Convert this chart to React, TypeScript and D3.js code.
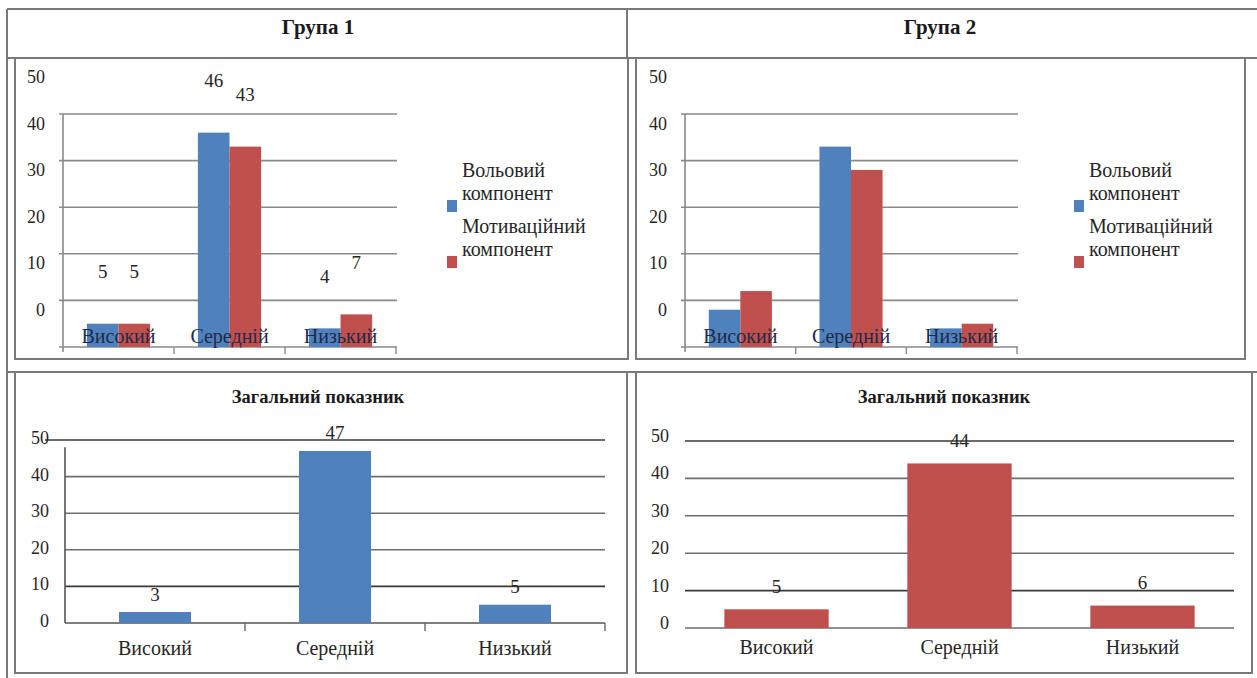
import React from 'react';
import * as d3 from 'd3';

// Levels of formation
const categories = ['Високий', 'Середній', 'Низький'];
// Series (two-line legend captions)
const seriesLabels = [
  ['Вольовий', 'компонент'],
  ['Мотиваційний', 'компонент'],
];
const group1Volitional = [5, 46, 4];
const group1Motivational = [5, 43, 7];
const group2Volitional = [8, 43, 4];
const group2Motivational = [12, 38, 5];
const group1Overall = [3, 47, 5];
const group2Overall = [5, 44, 6];
const yTicks = [0, 10, 20, 30, 40, 50];
const groupTitles = ['Група 1', 'Група 2'];
const overallTitle = 'Загальний показник';

const BLUE = '#4f81bd';
const RED = '#c0504d';
const SERIF = 'Liberation Serif';
const TEXT = '#262626';
const RULE = '#7a7a7a';

type GroupedProps = {
  left: number;
  right: number;
  base: number;
  top: number;
  series: number[][];
  showValues: boolean;
  legendX: number;
};

function GroupedChart({ left, right, base, top, series, showValues, legendX }: GroupedProps) {
  const y = d3.scaleLinear().domain([0, 50]).range([base, top]);
  const x = d3
    .scaleBand<string>()
    .domain(categories)
    .range([left, right])
    .paddingInner(0.43)
    .paddingOuter(0.215);
  const xs = d3
    .scaleBand<string>()
    .domain(series.map((_, i) => String(i)))
    .range([0, x.bandwidth()]);
  const colors = [BLUE, RED];
  const step = x.step();
  return (
    <g>
      {/* gridlines */}
      {yTicks.filter((t) => t > 0).map((t) => (
        <line key={t} x1={left - 4} x2={right + 1} y1={y(t)} y2={y(t)} stroke="#8a8a8a" strokeWidth={1.6} />
      ))}
      {/* value axis */}
      <line x1={left} x2={left} y1={y(50)} y2={base + 5} stroke="#8a8a8a" strokeWidth={1.6} />
      <line x1={left - 4} x2={right + 1} y1={base} y2={base} stroke="#8a8a8a" strokeWidth={1.6} />
      {d3.range(1, categories.length + 1).map((i) => (
        <line key={i} x1={left + i * step} x2={left + i * step} y1={base} y2={base + 7} stroke="#8a8a8a" strokeWidth={1.4} />
      ))}
      {yTicks.map((t) => (
        <text key={t} x={left - 18} y={y(t) - 37} textAnchor="end" dominantBaseline="central" fontSize={18} fill={TEXT}>
          {t}
        </text>
      ))}
      {/* bars */}
      {series.map((vals, si) =>
        vals.map((v, ci) => (
          <rect
            key={`${si}-${ci}`}
            x={(x(categories[ci]) ?? 0) + (xs(String(si)) ?? 0)}
            y={y(v)}
            width={xs.bandwidth()}
            height={base - y(v)}
            fill={colors[si]}
          />
        ))
      )}
      {/* category names sit over the bars, just above the baseline */}
      {categories.map((c) => (
        <text key={c} x={(x(c) ?? 0) + x.bandwidth() / 2} y={base - 11} textAnchor="middle" dominantBaseline="central" fontSize={20} fill="#1e2a48">
          {c}
        </text>
      ))}
      {showValues &&
        series.map((vals, si) =>
          vals.map((v, ci) => (
            <text
              key={`v${si}-${ci}`}
              x={(x(categories[ci]) ?? 0) + (xs(String(si)) ?? 0) + xs.bandwidth() / 2}
              y={y(v) - 52}
              textAnchor="middle"
              dominantBaseline="central"
              fontSize={19}
              fill={TEXT}
            >
              {v}
            </text>
          ))
        )}
      {/* legend */}
      {seriesLabels.map((lines, si) => (
        <g key={si} transform={`translate(${legendX},${170 + si * 56})`}>
          {lines.map((ln, li) => (
            <text key={li} x={15} y={li * 23} dominantBaseline="central" fontSize={20} fill={TEXT}>
              {ln}
            </text>
          ))}
          <rect x={0} y={30} width={10} height={12} fill={colors[si]} />
        </g>
      ))}
    </g>
  );
}

type OverallProps = {
  left: number;
  right: number;
  base: number;
  top: number;
  values: number[];
  color: string;
  pad: number;
  withAxis: boolean;
  tickDy: number;
  valueDy: number;
  catDy: number;
  titleX: number;
  titleY: number;
};

function OverallChart({ left, right, base, top, values, color, pad, withAxis, tickDy, valueDy, catDy, titleX, titleY }: OverallProps) {
  const y = d3.scaleLinear().domain([0, 50]).range([base, top]);
  const x = d3
    .scaleBand<string>()
    .domain(categories)
    .range([left, right])
    .paddingInner(pad)
    .paddingOuter(pad / 2);
  const step = x.step();
  const grid = withAxis ? yTicks.filter((t) => t > 0) : yTicks;
  return (
    <g>
      <text x={titleX} y={titleY} textAnchor="middle" dominantBaseline="central" fontSize={18.5} fontWeight="bold" fill="#1a1a1a">
        {overallTitle}
      </text>
      {grid.map((t) => (
        <line
          key={t}
          x1={withAxis && t === 50 ? left - 20 : left}
          x2={right}
          y1={y(t)}
          y2={y(t)}
          stroke={t === 10 || t === 50 ? '#3a3a3a' : '#6e6e6e'}
          strokeWidth={1.6}
        />
      ))}
      {withAxis && (
        <g>
          <line x1={left} x2={left} y1={y(48)} y2={base} stroke="#555" strokeWidth={1.6} />
          <line x1={left} x2={right} y1={base} y2={base} stroke="#555" strokeWidth={1.6} />
          {d3.range(1, categories.length + 1).map((i) => (
            <line key={i} x1={left + i * step} x2={left + i * step} y1={base} y2={base + 8} stroke="#666" strokeWidth={1.4} />
          ))}
        </g>
      )}
      {yTicks.map((t) => (
        <text key={t} x={left - 16} y={y(t) + tickDy} textAnchor="end" dominantBaseline="central" fontSize={18} fill={TEXT}>
          {t}
        </text>
      ))}
      {values.map((v, i) => (
        <rect key={i} x={x(categories[i])} y={y(v)} width={x.bandwidth()} height={base - y(v)} fill={color} />
      ))}
      {values.map((v, i) => (
        <text
          key={`v${i}`}
          x={(x(categories[i]) ?? 0) + x.bandwidth() / 2}
          y={y(v) + valueDy}
          textAnchor="middle"
          dominantBaseline="central"
          fontSize={19}
          fill={TEXT}
        >
          {v}
        </text>
      ))}
      {categories.map((c) => (
        <text key={c} x={(x(c) ?? 0) + x.bandwidth() / 2} y={base + catDy} textAnchor="middle" dominantBaseline="central" fontSize={20} fill={TEXT}>
          {c}
        </text>
      ))}
    </g>
  );
}

export default function App() {
  return (
    <svg
      width={1257}
      height={678}
      viewBox="0 0 1257 678"
      style={{ position: 'absolute', left: 0, top: 0, background: '#fff' }}
    >
      <g fontFamily={SERIF}>
        <rect x={0} y={0} width={1257} height={678} fill="#fff" />
        {/* table rules */}
        <g stroke={RULE} strokeWidth={2} fill="none">
          <line x1={7} x2={1257} y1={9} y2={9} />
          <line x1={7} x2={7} y1={9} y2={678} />
          <line x1={7} x2={1257} y1={58} y2={58} />
          <line x1={627} x2={627} y1={9} y2={58} />
          <line x1={7} x2={1257} y1={372} y2={372} />
          <rect x={15} y={58} width={613} height={301} />
          <rect x={636} y={58} width={609} height={301} />
          <rect x={15} y={372} width={612} height={301} />
          <rect x={636} y={372} width={616} height={301} />
        </g>
        {groupTitles.map((t, i) => (
          <text key={t} x={i === 0 ? 318 : 940} y={27} textAnchor="middle" dominantBaseline="central" fontSize={21} fontWeight="bold" fill="#1a1a1a">
            {t}
          </text>
        ))}
        <GroupedChart left={63} right={396} base={347} top={114} series={[group1Volitional, group1Motivational]} showValues legendX={447} />
        <GroupedChart left={685} right={1017} base={347} top={114} series={[group2Volitional, group2Motivational]} showValues={false} legendX={1074} />
        <OverallChart
          left={65}
          right={605}
          base={623}
          top={440}
          values={group1Overall}
          color={BLUE}
          pad={0.6}
          withAxis
          tickDy={-2}
          valueDy={-18}
          catDy={25}
          titleX={318}
          titleY={397}
        />
        <OverallChart
          left={685}
          right={1234}
          base={628}
          top={441}
          values={group2Overall}
          color={RED}
          pad={0.43}
          withAxis={false}
          tickDy={-5}
          valueDy={-23}
          catDy={19}
          titleX={944}
          titleY={397}
        />
      </g>
    </svg>
  );
}
